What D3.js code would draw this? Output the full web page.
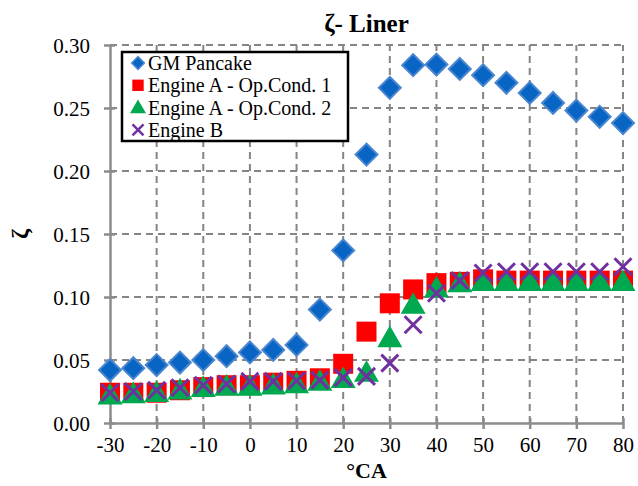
<!DOCTYPE html>
<html>
<head>
<meta charset="utf-8">
<script src="https://cdn.jsdelivr.net/npm/d3@7"></script>
<style>
  body { margin: 0; background: #fff; }
  svg text { font-family: "Liberation Serif", "Times New Roman", Tinos, "DejaVu Serif", serif !important; }
</style>
</head>
<body>
<svg id="chart" width="638" height="486"></svg>
<script>
// Data
const crankAngle = [-30, -25, -20, -15, -10, -5, 0, 5, 10, 15, 20, 25, 30, 35, 40, 45, 50, 55, 60, 65, 70, 75, 80];
const gmPancake = [0.042, 0.0435, 0.046, 0.048, 0.050, 0.053, 0.056, 0.058, 0.062, 0.090, 0.137, 0.213, 0.266, 0.284, 0.2845, 0.281, 0.276, 0.270, 0.262, 0.254, 0.248, 0.243, 0.238];
const engineAOp1 = [0.024, 0.024, 0.024, 0.026, 0.0285, 0.030, 0.030, 0.032, 0.0335, 0.0355, 0.047, 0.0725, 0.095, 0.106, 0.111, 0.112, 0.114, 0.113, 0.113, 0.113, 0.113, 0.113, 0.113];
const engineAOp2 = [0.022, 0.023, 0.024, 0.026, 0.028, 0.029, 0.029, 0.030, 0.031, 0.033, 0.035, 0.040, 0.0675, 0.094, 0.107, 0.111, 0.112, 0.112, 0.112, 0.112, 0.112, 0.112, 0.112];
const engineB = [0.024, 0.025, 0.026, 0.028, 0.030, 0.031, 0.033, 0.033, 0.0335, 0.034, 0.036, 0.037, 0.0475, 0.078, 0.103, 0.113, 0.119, 0.120, 0.120, 0.120, 0.120, 0.120, 0.124];
const seriesNames = ["GM Pancake", "Engine A - Op.Cond. 1", "Engine A - Op.Cond. 2", "Engine B"];
const xTicks = [-30, -20, -10, 0, 10, 20, 30, 40, 50, 60, 70, 80];
const yTicks = [0, 0.05, 0.10, 0.15, 0.20, 0.25, 0.30];

const svg = d3.select("#chart");
const margin = { top: 45, right: 15, bottom: 63, left: 110 };
const width = 638, height = 486;
const serif = "'Liberation Serif', 'Times New Roman', serif";

const x = d3.scaleLinear().domain([-30, 80]).range([margin.left, width - margin.right]);
const y = d3.scaleLinear().domain([0, 0.30]).range([height - margin.bottom, margin.top]);

const gridColor = "#858585";

// Grid lines (dashed)
svg.append("g").selectAll("line")
  .data(xTicks.slice(1))
  .join("line")
  .attr("x1", d => x(d)).attr("x2", d => x(d))
  .attr("y1", y(0)).attr("y2", y(0.30))
  .attr("stroke", gridColor).attr("stroke-width", 2).attr("stroke-dasharray", "7,5");

svg.append("g").selectAll("line")
  .data(yTicks.slice(1))
  .join("line")
  .attr("x1", x(-30)).attr("x2", x(80))
  .attr("y1", d => y(d)).attr("y2", d => y(d))
  .attr("stroke", gridColor).attr("stroke-width", 2).attr("stroke-dasharray", "7,5");

// Axes
const xAxis = svg.append("g")
  .attr("transform", `translate(0,${y(0)})`)
  .call(d3.axisBottom(x).tickValues(xTicks).tickFormat(d => String(d)).tickSizeInner(6).tickSizeOuter(0).tickPadding(8));
xAxis.selectAll(".tick line").attr("y1", -5);

const yAxis = svg.append("g")
  .attr("transform", `translate(${x(-30)},0)`)
  .call(d3.axisLeft(y).tickValues(yTicks).tickFormat(d3.format(".2f")).tickSizeInner(6).tickSizeOuter(0).tickPadding(14));
yAxis.selectAll(".tick line").attr("x1", 5);

[xAxis, yAxis].forEach(a => {
  a.attr("font-family", serif);
  a.select(".domain").attr("stroke", "#8c8c8c").attr("stroke-width", 2.5);
  a.selectAll(".tick line").attr("stroke", "#8c8c8c").attr("stroke-width", 2.5);
  a.selectAll(".tick text").attr("fill", "#000").style("font-size", "21px");
});
yAxis.selectAll(".tick text").attr("dy", "0.35em");

// Markers
const diamond = d3.symbol().type(d3.symbolSquare).size(240);
const square = d3.symbol().type(d3.symbolSquare).size(400);
const triangle = d3.symbol().type(d3.symbolTriangle).size(270);

const pts = (vals) => crankAngle.map((a, i) => ({ a, v: vals[i] }));

svg.append("g").selectAll("path")
  .data(pts(gmPancake))
  .join("path")
  .attr("d", diamond)
  .attr("transform", d => `translate(${x(d.a)},${y(d.v)}) rotate(45)`)
  .attr("fill", "#0865C4").attr("stroke", "#4A86CF").attr("stroke-width", 2);

svg.append("g").selectAll("path")
  .data(pts(engineAOp1))
  .join("path")
  .attr("d", square)
  .attr("transform", d => `translate(${x(d.a)},${y(d.v)})`)
  .attr("fill", "#FF0000");

svg.append("g").selectAll("path")
  .data(pts(engineAOp2))
  .join("path")
  .attr("d", triangle)
  .attr("transform", d => `translate(${x(d.a)},${y(d.v) + 2})`)
  .attr("fill", "#00A84F");

const crossPath = (s) => `M${-s},${-s}L${s},${s}M${-s},${s}L${s},${-s}`;
svg.append("g").selectAll("path")
  .data(pts(engineB))
  .join("path")
  .attr("d", crossPath(8.5))
  .attr("transform", d => `translate(${x(d.a)},${y(d.v)})`)
  .attr("stroke", "#7030A0").attr("stroke-width", 3).attr("fill", "none");

// Legend
const legend = svg.append("g").attr("transform", "translate(122,52)");
legend.append("rect")
  .attr("width", 226).attr("height", 89)
  .attr("fill", "#fff").attr("stroke", "#000").attr("stroke-width", 2.5);

const rowY = i => 11 + i * 22.3;
const lm = legend.append("g").attr("transform", "translate(16,0)");
lm.append("path").attr("d", d3.symbol().type(d3.symbolSquare).size(80))
  .attr("transform", `translate(0,${rowY(0)}) rotate(45)`)
  .attr("fill", "#0865C4").attr("stroke", "#4A86CF").attr("stroke-width", 1.5);
lm.append("path").attr("d", d3.symbol().type(d3.symbolSquare).size(130))
  .attr("transform", `translate(0,${rowY(1)})`).attr("fill", "#FF0000");
lm.append("path").attr("d", d3.symbol().type(d3.symbolTriangle).size(110))
  .attr("transform", `translate(0,${rowY(2) + 1})`).attr("fill", "#00A84F");
lm.append("path").attr("d", crossPath(5.5))
  .attr("transform", `translate(0,${rowY(3)})`)
  .attr("stroke", "#7030A0").attr("stroke-width", 2.5).attr("fill", "none");

legend.selectAll("text.item")
  .data(seriesNames)
  .join("text")
  .attr("class", "item")
  .attr("x", 26).attr("y", (d, i) => rowY(i) + 7)
  .attr("font-family", serif)
  .style("font-size", "20px").attr("fill", "#000")
  .text(d => d);

// Title and axis labels
svg.append("text")
  .attr("x", x(25)).attr("y", 32).attr("text-anchor", "middle")
  .attr("font-family", serif)
  .style("font-size", "25px").style("font-weight", "bold")
  .text("ζ- Liner");

svg.append("text")
  .attr("x", x(25)).attr("y", 478).attr("text-anchor", "middle")
  .attr("font-family", serif)
  .style("font-size", "22px").style("font-weight", "bold")
  .text("°CA");

svg.append("text")
  .attr("transform", `translate(28,${y(0.15)}) rotate(-90)`)
  .attr("text-anchor", "middle")
  .attr("font-family", serif)
  .style("font-size", "24px").style("font-weight", "bold")
  .text("ζ");
</script>
</body>
</html>
